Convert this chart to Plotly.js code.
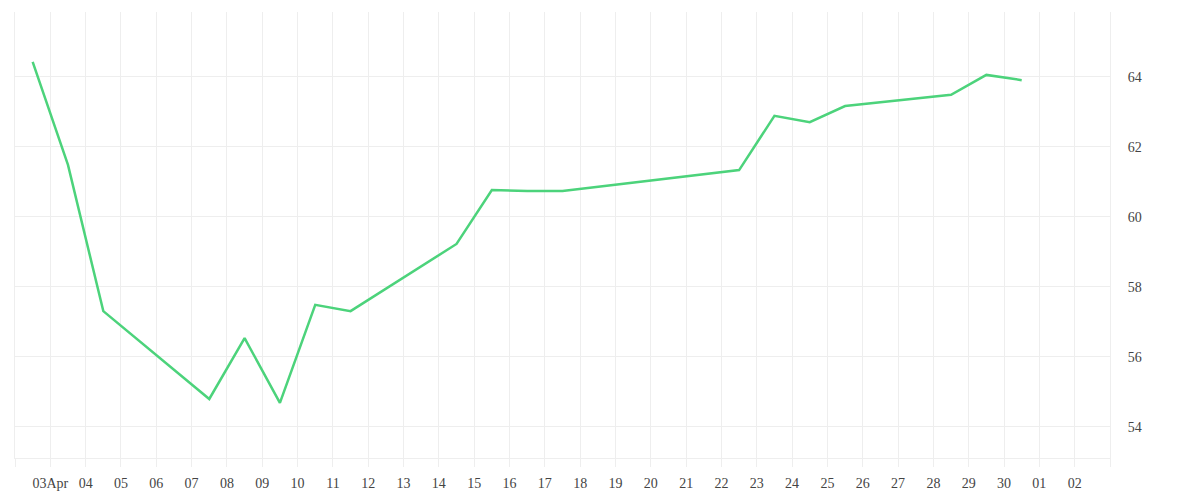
<!DOCTYPE html>
<html>
<head>
<meta charset="utf-8">
<script src="https://cdn.plot.ly/plotly-3.0.1.min.js"></script>
<style>html,body{margin:0;padding:0;background:#fff;}#chart{width:1200px;height:500px;}</style>
</head>
<body>
<div id="chart"></div>
<script>
const dates = ["2024-04-02 12:00","2024-04-03 12:00","2024-04-04 12:00","2024-04-07 12:00","2024-04-08 12:00","2024-04-09 12:00","2024-04-10 12:00","2024-04-11 12:00","2024-04-14 12:00","2024-04-15 12:00","2024-04-16 12:00","2024-04-17 12:00","2024-04-22 12:00","2024-04-23 12:00","2024-04-24 12:00","2024-04-25 12:00","2024-04-28 12:00","2024-04-29 12:00","2024-04-30 12:00"];
const values = [64.43,61.49,57.31,54.80,56.54,54.69,57.49,57.31,59.23,60.77,60.74,60.74,61.34,62.89,62.71,63.17,63.49,64.06,63.91];
const tickDates = ["2024-04-02","2024-04-03","2024-04-04","2024-04-05","2024-04-06","2024-04-07","2024-04-08","2024-04-09","2024-04-10","2024-04-11","2024-04-12","2024-04-13","2024-04-14","2024-04-15","2024-04-16","2024-04-17","2024-04-18","2024-04-19","2024-04-20","2024-04-21","2024-04-22","2024-04-23","2024-04-24","2024-04-25","2024-04-26","2024-04-27","2024-04-28","2024-04-29","2024-04-30","2024-05-01","2024-05-02","2024-05-03"];
const tickLabels = ["","03Apr","04","05","06","07","08","09","10","11","12","13","14","15","16","17","18","19","20","21","22","23","24","25","26","27","28","29","30","01","02",""];
const yTicks = [54,56,58,60,62,64];

const trace = {
  x: dates, y: values, type: "scatter", mode: "lines",
  line: {color: "#4cd37b", width: 2.5},
  hoverinfo: "x+y"
};
const layout = {
  width: 1200, height: 500,
  margin: {l: 15, r: 90, t: 12, b: 42},
  paper_bgcolor: "#fff", plot_bgcolor: "#fff",
  showlegend: false,
  font: {family: "Liberation Serif, serif", size: 14, color: "#444"},
  xaxis: {
    type: "date",
    range: ["2024-04-02", "2024-05-03"],
    tickvals: tickDates, ticktext: tickLabels,
    showgrid: true, gridcolor: "#eeeeee", gridwidth: 1,
    ticks: "outside", ticklen: 8, tickcolor: "#eeeeee", tickwidth: 1,
    ticklabelstandoff: 4,
    showline: true, linecolor: "#eeeeee", linewidth: 1,
    zeroline: false, fixedrange: true
  },
  yaxis: {
    side: "right",
    range: [53.114, 65.857],
    tickvals: yTicks, ticktext: yTicks.map(String),
    showgrid: true, gridcolor: "#eeeeee", gridwidth: 1,
    ticks: "", ticklabelstandoff: 14,
    showline: true, mirror: true, linecolor: "#eeeeee", linewidth: 1,
    zeroline: false, fixedrange: true
  }
};
Plotly.newPlot("chart", [trace], layout, {displayModeBar: false, staticPlot: true});
</script>
</body>
</html>
